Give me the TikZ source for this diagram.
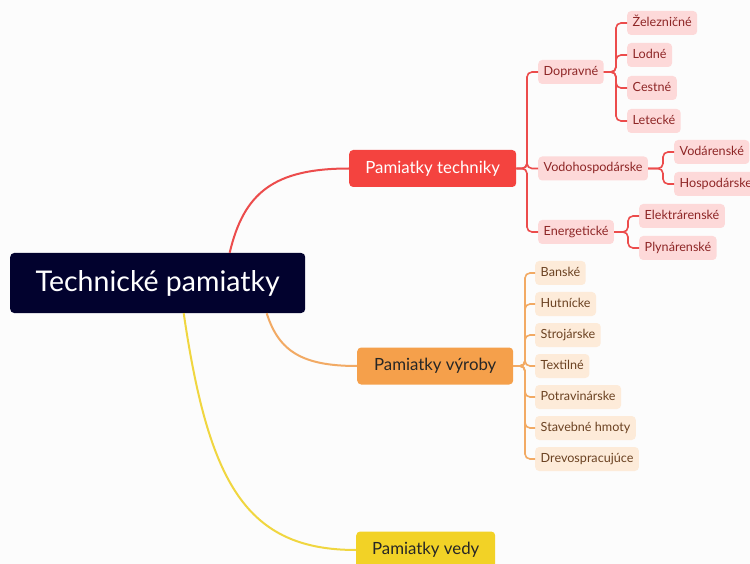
\documentclass[tikz,border=0pt]{standalone}
\usepackage{fontspec}
\setmainfont{Lato}
\definecolor{rootblue}{HTML}{02022E}
\definecolor{techred}{HTML}{F4433F}
\definecolor{techline}{HTML}{EC4C4C}
\definecolor{techpale}{HTML}{FDD9D9}
\definecolor{techtext}{HTML}{8E2626}
\definecolor{vyrorange}{HTML}{F5A04B}
\definecolor{vyrline}{HTML}{F2AA64}
\definecolor{vyrpale}{HTML}{FDEBD9}
\definecolor{vyrtext}{HTML}{6B4222}
\definecolor{vedyellow}{HTML}{F2D226}
\definecolor{vedline}{HTML}{F0D640}
\begin{document}
\begin{tikzpicture}[x=1pt,y=-1pt,
  rootbox/.style={fill=rootblue,text=white,rounded corners=4pt,anchor=west,
    font=\fontsize{28.5}{32}\selectfont,minimum height=60pt,minimum width=295pt},
  mainbox/.style={rounded corners=4pt,anchor=west,font=\fontsize{16.8}{19}\selectfont,
    minimum height=37pt,inner xsep=14pt},
  techbox/.style={fill=techpale,text=techtext,rounded corners=4pt,anchor=west,
    font=\fontsize{12.6}{15}\selectfont,minimum height=24pt,inner xsep=5.5pt,
    text height=9.5pt,text depth=2.7pt},
  vyrbox/.style={techbox,fill=vyrpale,text=vyrtext},
  techlink/.style={draw=techline,line width=1.6pt,rounded corners=5pt},
  vyrlink/.style={draw=vyrline,line width=1.6pt,rounded corners=5pt}]
\clip (0,0) rectangle (750,564);
\fill[white!99!black] (0,0) rectangle (750,564);

\node[rootbox] (root) at (10,283) {Technické pamiatky};
\node[mainbox,fill=techred,text=white,minimum width=167pt] (tech) at (349,168.5) {Pamiatky techniky};
\node[mainbox,fill=vyrorange,text=black!85,minimum width=156pt] (vyr) at (357,366) {Pamiatky výroby};
\node[mainbox,fill=vedyellow,text=black!85,minimum width=139pt] (ved) at (356,550) {Pamiatky vedy};

% main branches
\draw[techline,line width=2pt] ([xshift=72pt]root.north) .. controls +(14,-60) and +(-75,0) .. (tech.west);
\draw[vyrline,line width=2pt] ([xshift=109pt]root.south) .. controls +(12,38) and +(-55,0) .. (vyr.west);
\draw[vedline,line width=2pt] ([xshift=26pt]root.south) .. controls +(25,170) and +(-110,0) .. (ved.west);

% Pamiatky techniky
\node[techbox] (dop) at (538,72) {Dopravné};
\node[techbox] (vod) at (538,168.5) {Vodohospodárske};
\node[techbox] (ene) at (538,232) {Energetické};
\node[techbox] (zel) at (627,23) {Železničné};
\node[techbox] (lod) at (627,55) {Lodné};
\node[techbox] (ces) at (627,88) {Cestné};
\node[techbox] (let) at (627,121) {Letecké};
\node[techbox] (vdr) at (674,152) {Vodárenské};
\node[techbox] (hos) at (674,184) {Hospodárske};
\node[techbox] (ele) at (639,216) {Elektrárenské};
\node[techbox] (ply) at (639,248) {Plynárenské};

\foreach \a/\b in {tech/dop,tech/vod,tech/ene,dop/zel,dop/lod,dop/ces,dop/let,vod/vdr,vod/hos,ene/ele,ene/ply}{
\draw[techlink] (\a.east) -| ([xshift=-11pt]\b.west) -- (\b.west);
}

% Pamiatky vyroby
\foreach \t [count=\i] in {Banské,Hutnícke,Strojárske,Textilné,Potravinárske,Stavebné hmoty,Drevospracujúce}{
\node[vyrbox] (v\i) at (535,242+31*\i) {\t};
\draw[vyrlink] (vyr.east) -| ([xshift=-10pt]v\i.west) -- (v\i.west);
}
\end{tikzpicture}
\end{document}
